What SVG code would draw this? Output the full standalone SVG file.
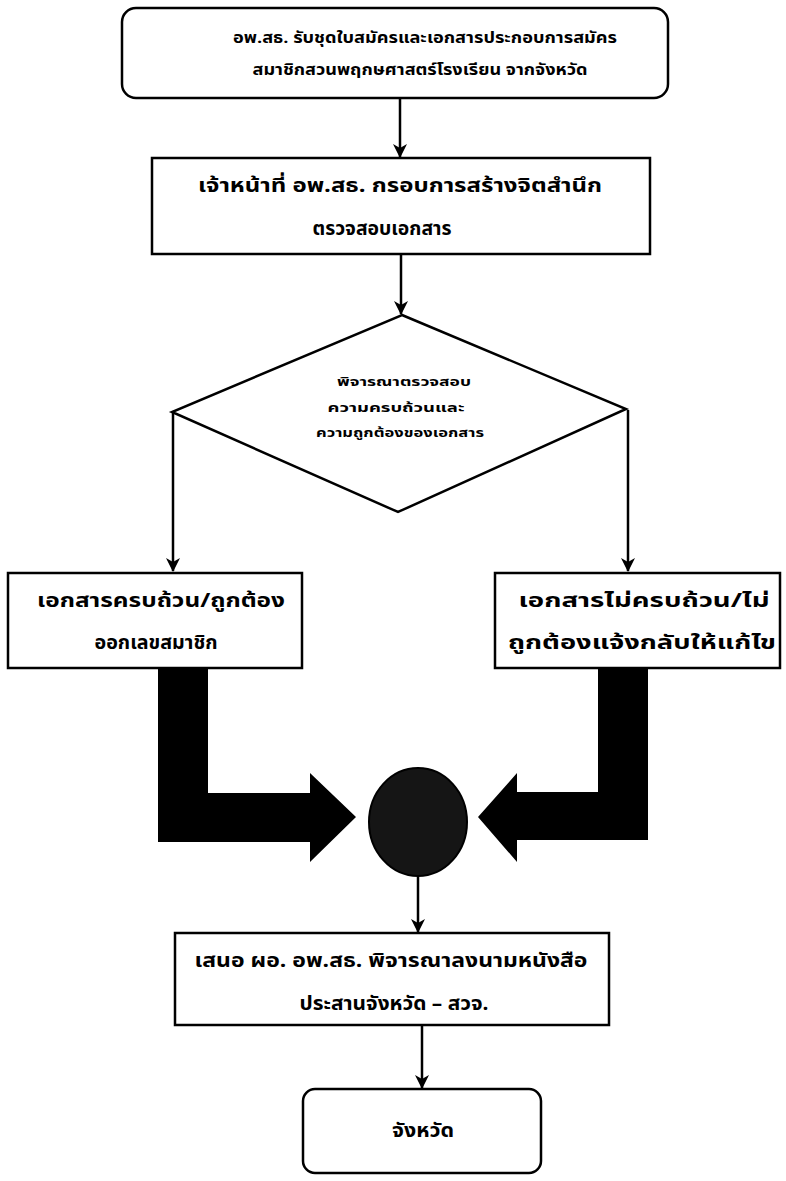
<svg xmlns="http://www.w3.org/2000/svg" width="786" height="1181" viewBox="0 0 786 1181">
<style>
.box{fill:#fff;stroke:#000;stroke-width:2.5}
.t{font-family:"Noto Sans Thai","Noto Sans","DejaVu Sans",sans-serif;font-weight:bold;fill:#000;text-anchor:middle}
.s15{font-size:15px}.s19{font-size:19px}.s12{font-size:12px}
.ln{stroke:#000;stroke-width:2.5;fill:none}
.thick{fill:#000}
</style>
<defs>
<marker id="ah" viewBox="0 0 14 14" refX="13" refY="7" markerWidth="14" markerHeight="14" markerUnits="userSpaceOnUse" orient="auto">
<path d="M0,0 L14,7 L0,14 L4,7 Z" fill="#000"/>
</marker>
</defs>
<rect width="786" height="1181" fill="#fff"/>
<g id="connectors">
<line class="ln" x1="400" y1="98" x2="400" y2="157" marker-end="url(#ah)"/>
<line class="ln" x1="401" y1="254" x2="401" y2="314" marker-end="url(#ah)"/>
<line class="ln" x1="173" y1="412" x2="173" y2="571" marker-end="url(#ah)"/>
<line class="ln" x1="628" y1="410" x2="628" y2="571" marker-end="url(#ah)"/>
<path class="thick" d="M158,668 L208,668 L208,793 L310,793 L310,773 L356,817 L310,862 L310,842 L158,842 Z"/>
<path class="thick" d="M648,668 L598,668 L598,792 L517,792 L517,773 L478,817 L517,862 L517,840 L648,840 Z"/>
<line class="ln" x1="418" y1="877" x2="418" y2="932" marker-end="url(#ah)"/>
<line class="ln" x1="422" y1="1025" x2="422" y2="1088" marker-end="url(#ah)"/>
</g>
<g id="n1">
<rect class="box" x="122" y="8" width="546" height="90" rx="14"/>
<text class="t s15" x="425" y="43" textLength="384" lengthAdjust="spacingAndGlyphs">อพ.สธ. รับชุดใบสมัครและเอกสารประกอบการสมัคร</text>
<text class="t s15" x="420" y="75" textLength="335" lengthAdjust="spacingAndGlyphs">สมาชิกสวนพฤกษศาสตร์โรงเรียน จากจังหวัด</text>
</g>
<g id="n2">
<rect class="box" x="152" y="158" width="498" height="96"/>
<text class="t s19" x="400" y="192" textLength="404" lengthAdjust="spacingAndGlyphs">เจ้าหน้าที่ อพ.สธ. กรอบการสร้างจิตสำนึก</text>
<text class="t s19" x="382" y="235" textLength="139" lengthAdjust="spacingAndGlyphs">ตรวจสอบเอกสาร</text>
</g>
<g id="n3">
<polygon class="box" points="402,315 626,409 398,512 172,412"/>
<text class="t s12" x="404" y="386" textLength="134" lengthAdjust="spacingAndGlyphs">พิจารณาตรวจสอบ</text>
<text class="t s12" x="396" y="412" textLength="137" lengthAdjust="spacingAndGlyphs">ความครบถ้วนและ</text>
<text class="t s12" x="400" y="437" textLength="168" lengthAdjust="spacingAndGlyphs">ความถูกต้องของเอกสาร</text>
</g>
<g id="n4">
<rect class="box" x="8" y="573" width="294" height="95"/>
<text class="t s19" x="161" y="607" textLength="248" lengthAdjust="spacingAndGlyphs">เอกสารครบถ้วน/ถูกต้อง</text>
<text class="t s19" x="156" y="649" textLength="123" lengthAdjust="spacingAndGlyphs">ออกเลขสมาชิก</text>
</g>
<g id="n5">
<rect class="box" x="495" y="573" width="285" height="95"/>
<text class="t s19" x="644" y="607" textLength="251" lengthAdjust="spacingAndGlyphs">เอกสารไม่ครบถ้วน/ไม่</text>
<text class="t s19" x="642" y="649" textLength="268" lengthAdjust="spacingAndGlyphs">ถูกต้องแจ้งกลับให้แก้ไข</text>
</g>
<g id="n6">
<ellipse cx="418" cy="822" rx="49" ry="54" fill="#151515" stroke="#000" stroke-width="2"/>
</g>
<g id="n7">
<rect class="box" x="175" y="933" width="434" height="92"/>
<text class="t s19" x="391" y="967" textLength="393" lengthAdjust="spacingAndGlyphs">เสนอ ผอ. อพ.สธ. พิจารณาลงนามหนังสือ</text>
<text class="t s19" x="394" y="1010" textLength="189" lengthAdjust="spacingAndGlyphs">ประสานจังหวัด – สวจ.</text>
</g>
<g id="n8">
<rect class="box" x="303" y="1089" width="238" height="84" rx="12"/>
<text class="t s19" x="423" y="1137" textLength="62" lengthAdjust="spacingAndGlyphs">จังหวัด</text>
</g>
</svg>
